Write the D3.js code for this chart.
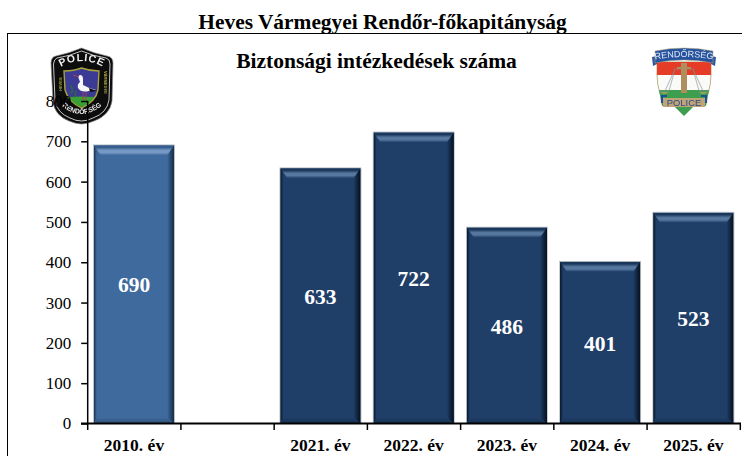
<!DOCTYPE html>
<html lang="hu"><head><meta charset="utf-8">
<script src="https://cdn.jsdelivr.net/npm/d3@7/dist/d3.min.js"></script>
<style>html,body{margin:0;padding:0;background:#fff}svg{display:block}text{font-family:"Liberation Serif","Times New Roman",serif}</style>
</head><body><script>
const categories = ["2010. év", "", "2021. év", "2022. év", "2023. év", "2024. év", "2025. év"];
const values = [690, null, 633, 722, 486, 401, 523];
const highlighted = ["2010. év"];
const yTicks = [0, 100, 200, 300, 400, 500, 600, 700, 800];
const titleText = "Heves Vármegyei Rendőr-főkapitányság";
const subtitleText = "Biztonsági intézkedések száma";

const W = 742, H = 456;
const svg = d3.select("body").append("svg").attr("width", W).attr("height", H);
const defs = svg.append("defs");
defs.append("filter").attr("id","soft").append("feGaussianBlur").attr("stdDeviation",0.4);

const x = d3.scaleBand().domain(categories.map((c,i)=>i)).range([87.4, 740]).paddingInner(0.14).paddingOuter(0.07);
const y = d3.scaleLinear().domain([0, 800]).range([423.5, 101]);

const palettes = {
  light: {face:"#3f6a9d", hi:"#7599c4", edge:"#1b3350", top:"#345c8c", bottom:"#2f5075"},
  dark:  {face:"#1f3e68", hi:"#56789f", edge:"#081627", top:"#1b365b", bottom:"#16304f"}
};
function vgrad(id, stops, horiz){
  const g = defs.append("linearGradient").attr("id",id);
  if(horiz) g.attr("x1",0).attr("x2",1).attr("y1",0).attr("y2",0);
  else g.attr("x1",0).attr("x2",0).attr("y1",0).attr("y2",1);
  stops.forEach(s=>g.append("stop").attr("offset",s[0]).attr("stop-color",s[1]));
}
Object.entries(palettes).forEach(([k,p])=>{
  vgrad("top-"+k, [[0,p.top],[0.2,p.top],[0.5,p.hi],[0.72,p.hi],[1,p.face]]);
  vgrad("right-"+k, [[0,p.face],[0.85,p.edge],[1,p.edge]], true);
  vgrad("left-"+k, [[0,p.edge],[1,p.face]], true);
  vgrad("bot-"+k, [[0,p.face],[1,p.bottom]]);
});

// frame
svg.append("rect").attr("x",7.5).attr("y",33.5).attr("width",W+20).attr("height",H+20)
  .attr("fill","#fff").attr("stroke","#000").attr("stroke-width",1);

// title
svg.append("text").attr("x",382.5).attr("y",29).attr("text-anchor","middle")
  .attr("font-size",21.4).attr("font-weight","bold").text(titleText);
svg.append("text").attr("x",376.5).attr("y",68).attr("text-anchor","middle")
  .attr("font-size",21.5).attr("font-weight","bold").text(subtitleText);

const sans = "'Liberation Sans',sans-serif";
// left badge (origin 50,47)
const lb = svg.append("g").attr("transform","translate(50,47)").attr("filter","url(#soft)");
lb.append("path").attr("d","M6 9 Q20 6 31.5 1 Q43 6 57 9 Q63 10 63 16 L62 54 Q60 68 44 74 Q37 77 31.5 77 Q26 77 19 74 Q4 68 3 54 L1 16 Q1 10 6 9Z")
  .attr("fill","#0a0a0a").attr("stroke","#8a8a8a").attr("stroke-width",0.7);
lb.append("path").attr("d","M7 11 Q20 9 31.5 4 Q43 9 56 11 Q60 12 60 17 L59 53 Q57 66 43 71 Q37 74 31.5 74 Q26 74 20 71 Q7 66 5 53 L3.5 17 Q4 12 7 11Z")
  .attr("fill","none").attr("stroke","#dcdcdc").attr("stroke-width",0.9);
lb.append("path").attr("d","M14 24 Q24 24 31.5 21 Q40 24 49 24 L48 43 Q46 54 31.5 61 Q18 54 15 43Z").attr("fill","#3a3a96").attr("stroke","#a9a33a").attr("stroke-width",1.4);
lb.append("path").attr("d","M19 50 Q30 49 44 50 Q40 57 31.5 60 Q23 57 19 50Z").attr("fill","#38a034");
lb.append("path").attr("d","M29 32 Q27 29 30 28 Q33 28 33 32 L33 38 Q38 41 46 43 L39 44 Q31 46 28 41 Q27 37 30 35Z").attr("fill","#f6f6f6");
lb.append("path").attr("d","M39 41 L47 44 L40 45Z").attr("fill","#111");
lb.append("path").attr("d","M29 30 L23 28").attr("stroke","#b33a52").attr("stroke-width",1);
lb.append("path").attr("d","M33 45 L33 53 M36 45 L36 53").attr("stroke","#b33a52").attr("stroke-width",0.9);
lb.append("path").attr("d","M20 38 Q24 42 21 47 M25 44 Q27 47 24 50").attr("stroke","#2c6d34").attr("stroke-width",1.4).attr("fill","none");
lb.append("path").attr("id","lbArc").attr("d","M9 21 Q31 7 55 21").attr("fill","none");
lb.append("text").attr("font-size",10.5).attr("font-weight","bold").attr("fill","#f2f2f2")
  .style("font-family",sans).attr("letter-spacing",0.9)
  .append("textPath").attr("href","#lbArc").attr("startOffset","50%").attr("text-anchor","middle").text("POLICE");
lb.append("path").attr("id","lbArc2").attr("d","M9 56 Q31 78 55 56").attr("fill","none");
lb.append("text").attr("font-size",6.8).attr("font-weight","bold").attr("fill","#e8e8e8")
  .style("font-family",sans)
  .append("textPath").attr("href","#lbArc2").attr("startOffset","50%").attr("text-anchor","middle").text("RENDŐRSÉG");
lb.append("text").attr("transform","translate(12,44) rotate(-90)").attr("font-size",4).attr("font-weight","bold").attr("fill","#b5ae3f").style("font-family",sans).text("HEVES");
lb.append("text").attr("transform","translate(54,24) rotate(90)").attr("font-size",4).attr("font-weight","bold").attr("fill","#b5ae3f").style("font-family",sans).text("VÁRMEGYE");

// right badge (origin 652,48)
const rb = svg.append("g").attr("transform","translate(652,48)").attr("filter","url(#soft)");
rb.append("path").attr("d","M5 14 L59 14 L59 27 Q59 36 56 46 L8 46 Q5 36 5 27Z").attr("fill","#fafaf8").attr("stroke","#b8a777").attr("stroke-width",0.9);
rb.append("path").attr("d","M5 14 L59 14 L59 27 L5 27Z").attr("fill","#e63b26");
rb.append("path").attr("d","M7 42 L57 42 L54 58 L42 58 L32 68 L22 58 L10 58Z").attr("fill","#3d9e50");
rb.append("path").attr("d","M0 9 L5 8 L5 16 L1 18Z M64 9 L59 8 L59 16 L63 18Z").attr("fill","#2a559f");
rb.append("path").attr("d","M3 3 Q32 -3 61 3 L61 15 Q32 9 3 15Z").attr("fill","#27539f").attr("stroke","#b8a777").attr("stroke-width",0.5);
rb.append("path").attr("id","rbArc").attr("d","M0 12 Q32 6 64 12").attr("fill","none");
rb.append("text").attr("font-size",9).attr("fill","#e6ebf4").style("font-family",sans)
  .append("textPath").attr("href","#rbArc").attr("startOffset","50%").attr("text-anchor","middle").text("RENDŐRSÉG");
rb.append("path").attr("d","M22 21 L42 21 M23 21 L17 43 L8 43 M41 21 L47 43 L56 43 M23 21 L13 43 M41 21 L51 43").attr("fill","none").attr("stroke","#7f8a92").attr("stroke-width",0.6);
rb.append("path").attr("d","M17 44 Q12 48 8 44Z M47 44 Q51 48 56 44Z").attr("fill","#9aa35e");
rb.append("rect").attr("x",29).attr("y",15).attr("width",6).attr("height",30).attr("fill","#ad8f5e");
rb.append("rect").attr("x",25).attr("y",19).attr("width",14).attr("height",2).attr("fill","#ad8f5e");
rb.append("path").attr("d","M10 55 L10 48 L15 48 M54 55 L54 48 L49 48").attr("stroke","#234e9a").attr("stroke-width",2.2).attr("fill","none");
rb.append("rect").attr("x",11).attr("y",50).attr("width",42).attr("height",9).attr("fill","#bfa478");
rb.append("text").attr("x",32).attr("y",58).attr("text-anchor","middle").attr("font-size",9.4).attr("fill","#2b4a86")
  .style("font-family",sans).text("POLICE");

// bars
const rows = categories.map((c,i)=>({c,i,v:values[i]})).filter(d=>d.v!==null);
const bevel = {t:10,b:6,l:3,r:7,tx:7};
const bars = svg.append("g").selectAll("g").data(rows).join("g");
bars.each(function(d){
  const k = highlighted.includes(d.c) ? "light" : "dark";
  const g = d3.select(this);
  const x0 = x(d.i), x1 = x0 + x.bandwidth(), y0 = y(d.v), y1 = y(0);
  g.append("rect").attr("x",x0).attr("y",y0).attr("width",x1-x0).attr("height",y1-y0).attr("fill",palettes[k].face);
  const pts = a => a.map(p=>p.join(",")).join(" ");
  const ix0=x0+bevel.l, ix1=x1-bevel.r, iy0=y0+bevel.t, iy1=y1-bevel.b;
  g.append("polygon").attr("points",pts([[x0,y0],[ix0,y0+bevel.l],[ix0,iy1],[x0,y1]])).attr("fill",`url(#left-${k})`);
  g.append("polygon").attr("points",pts([[x1,y0],[ix1,y0+bevel.r],[ix1,iy1],[x1,y1]])).attr("fill",`url(#right-${k})`);
  g.append("polygon").attr("points",pts([[x0,y1],[ix0,iy1],[ix1,iy1],[x1,y1]])).attr("fill",`url(#bot-${k})`);
  g.append("polygon").attr("points",pts([[x0,y0],[x1,y0],[x1-bevel.tx,iy0],[x0+bevel.tx,iy0]])).attr("fill",`url(#top-${k})`);
  g.append("rect").attr("x",x0-0.5).attr("y",y0-0.5).attr("width",x1-x0+1).attr("height",y1-y0+0.5)
    .attr("fill","none").attr("stroke","#a8b0b8").attr("stroke-width",0.6);
  g.append("text").attr("x",(x0+x1)/2).attr("y",(y0+y1)/2+8).attr("text-anchor","middle")
    .attr("font-size",21.5).attr("font-weight","bold").attr("fill","#fff").text(d.v);
});

// axes
const yAxis = svg.append("g").attr("transform","translate(87.7,0)")
  .call(d3.axisLeft(y).tickValues(yTicks).tickSize(6.5).tickPadding(10).tickFormat(d3.format("d")));
yAxis.selectAll("text").attr("font-size",17).attr("fill","#000").style("font-family","'Liberation Serif',serif");
yAxis.selectAll("line,path").attr("stroke","#000").attr("stroke-width",1.5);
yAxis.select(".domain").attr("d","M0,423.5V101");

const step = x.step();
const xBase = svg.append("g").attr("transform","translate(0,423.5)");
xBase.append("line").attr("x1",81).attr("x2",741).attr("stroke","#000").attr("stroke-width",2);
xBase.selectAll("line.t").data(d3.range(categories.length+1)).join("line").attr("class","t")
  .attr("x1",i=>87.7+i*step).attr("x2",i=>87.7+i*step)
  .attr("y1",0).attr("y2",6.5).attr("stroke","#000").attr("stroke-width",1.5);
xBase.selectAll("text").data(rows).join("text")
  .attr("x",d=>x(d.i)+x.bandwidth()/2).attr("y",27.5).attr("text-anchor","middle")
  .attr("font-size",17.5).attr("font-weight","bold").text(d=>d.c);
</script></body></html>
